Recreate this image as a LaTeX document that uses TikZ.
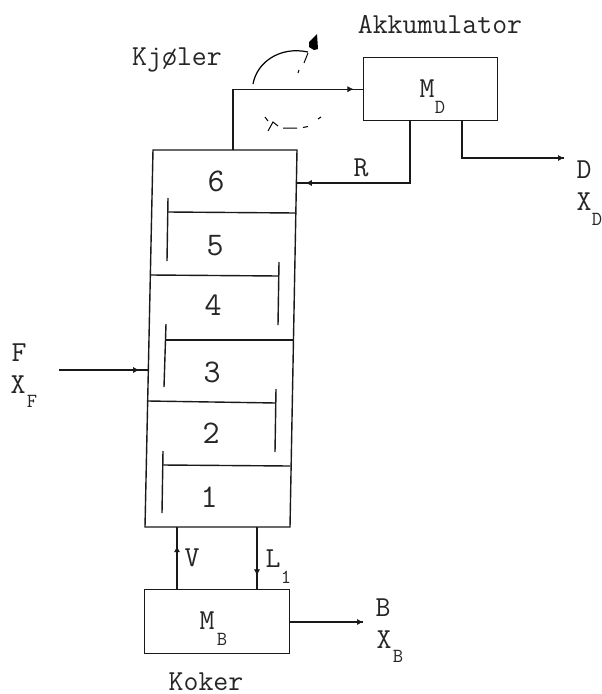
\documentclass[tikz,border=0pt]{standalone}
\usepackage{fontspec}
\usetikzlibrary{decorations.markings,arrows.meta}
\tikzset{
  x=1pt,y=-1pt,
  ln/.style={line width=1.4pt,black!90},
  txt/.style={font=\ttfamily\fontsize{29}{29}\selectfont,inner sep=0pt,text=black!85,text height=18pt,text depth=0pt},
  sub/.style={font=\ttfamily\fontsize{20}{20}\selectfont,inner sep=0pt,text=black!85,text height=12pt,text depth=0pt},
  num/.style={font=\ttfamily\fontsize{33}{33}\selectfont,inner sep=0pt,text=black!85,text height=20pt,text depth=0pt},
  vessel/.style={ln,draw,inner sep=0pt,anchor=north west},
  tip/.style={postaction={decorate,decoration={markings,mark=at position #1 with {\arrow[line width=.6pt]{Latex[length=6pt,width=6pt]}}}}}
}
\begin{document}
\begin{tikzpicture}
\useasboundingbox (0,0) rectangle (602,694);
\fill[white] (0,0) rectangle (602,694);
% vessels
\node[vessel,minimum width=134pt,minimum height=63pt] (acc) at (363,57) {};
\node[vessel,minimum width=145pt,minimum height=64pt] (reb) at (144,589) {};
\coordinate (cTL) at (153,150); \coordinate (cTR) at (297,150);
\coordinate (cBL) at (145,527); \coordinate (cBR) at (290,527);
\draw[ln] (cTL) -- (cTR) -- (cBR) -- (cBL) -- cycle;
% trays
\draw[ln] (296,213) -- (168,212); \draw[ln] (168,198) -- (167,261);
\draw[ln] (151,275) -- (279,276); \draw[ln] (279,262) -- (278,325);
\draw[ln] (293,340) -- (166,340); \draw[ln] (166,324) -- (164,387);
\draw[ln] (148,401) -- (276,403); \draw[ln] (276,389) -- (275,452);
\draw[ln] (290,466) -- (163,465); \draw[ln] (163,451) -- (162,513);
% stage labels
\node[num] (n6) at (216,181) {6};
\node[num] (n5) at (215,245) {5};
\node[num] (n4) at (213,305) {4};
\node[num] (n3) at (212,372) {3};
\node[num] (n2) at (211,433) {2};
\node[num] (n1) at (209,497) {1};
% connectors
\coordinate (top) at (233,150);
\coordinate (acL) at (acc.west);
\coordinate (rS) at (410,120); \coordinate (rE) at (297,183);
\coordinate (dS) at (462,120); \coordinate (dE) at (564,158);
\coordinate (fS) at (59,370); \coordinate (fE) at (148,370);
\coordinate (vS) at (177,589); \coordinate (vE) at (177,527);
\coordinate (lS) at (257,527); \coordinate (lE) at (257,589);
\coordinate (bS) at (289,622); \coordinate (bE) at (363,622);
\draw[ln,tip=0.95] (top) |- (acL);
\draw[ln,tip=0.95] (rS) |- (rE);
\draw[ln,tip=1] (dS) |- (dE);
\draw[ln,tip=0.9] (fS) -- (fE);
\draw[ln,tip=0.69] (vS) -- (vE);
\draw[ln,tip=0.78] (lS) -- (lE);
\draw[ln,tip=1] (bS) -- (bE);
% cooler
\draw[line width=1.2pt] (253,84) .. controls (257,62) and (280,46) .. (308,52);
\draw[line width=1pt] (308,53) -- (304,63) (299,70) -- (298,73);
\fill (309,42) -- (317,34) -- (318,49) -- (314,50) -- (309,47) -- cycle;
\draw[line width=1pt] (265,117) -- (268,121) (268,131) -- (273,122) -- (278,126)
  (283,128) -- (297,128) (303,127.5) -- (308,126.5) (318,119) -- (321,117);
% texts
\node[txt] (akk) at (440,24) {Akkumulator};
\node[txt] (kj) at (177,56) {Kjøler};
\node[txt] (md) at (427,88) {M};
\node[sub] (mdi) at (440,107) {D};
\node[txt] (r) at (361,167) {R};
\node[txt] (d) at (584,169) {D};
\node[txt] (xd) at (584,201) {X};
\node[sub] (xdi) at (597,219) {D};
\node[txt] (f) at (19,352) {F};
\node[txt] (xf) at (18,384) {X};
\node[sub] (xfi) at (32,401) {F};
\node[txt] (v) at (192,557) {V};
\node[txt] (l) at (273,558) {L};
\node[sub] (li) at (286,577) {1};
\node[txt] (mb) at (207,620) {M};
\node[sub] (mbi) at (222,639) {B};
\node[txt] (b) at (383,607) {B};
\node[txt] (xb) at (384,639) {X};
\node[sub] (xbi) at (398,656) {B};
\node[txt] (kok) at (206,681) {Koker};
\end{tikzpicture}
\end{document}
